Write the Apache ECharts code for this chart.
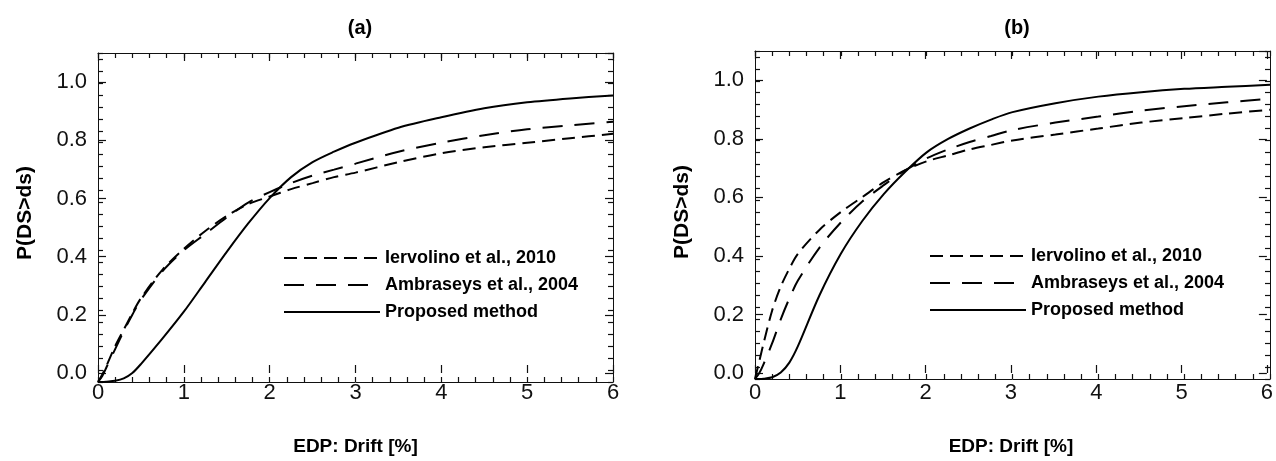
<!DOCTYPE html>
<html><head><meta charset="utf-8">
<script src="https://cdn.jsdelivr.net/npm/echarts@6/dist/echarts.min.js"></script>
<style>html,body{margin:0;padding:0;background:#fff}#c{width:1276px;height:461px}</style>
</head><body><div id="c"></div>
<script>
// ---- data ----
const drift = [0, 0.05, 0.1, 0.2, 0.3, 0.4, 0.5, 0.75, 1, 1.25, 1.5, 1.75, 2, 2.25, 2.5, 2.75, 3, 3.5, 4, 4.5, 5, 5.5, 6];
// panel (a)
const iervA = [0, 0.025, 0.055, 0.12, 0.175, 0.23, 0.28, 0.375, 0.445, 0.505, 0.555, 0.595, 0.62, 0.645, 0.665, 0.685, 0.70, 0.735, 0.765, 0.785, 0.80, 0.815, 0.83];
const ambrA = [0, 0.02, 0.05, 0.11, 0.17, 0.225, 0.275, 0.37, 0.44, 0.495, 0.55, 0.60, 0.635, 0.665, 0.69, 0.71, 0.73, 0.77, 0.80, 0.825, 0.845, 0.858, 0.87];
const propA = [0, 0, 0.001, 0.004, 0.012, 0.03, 0.06, 0.145, 0.235, 0.335, 0.435, 0.53, 0.615, 0.685, 0.735, 0.77, 0.80, 0.85, 0.885, 0.915, 0.935, 0.948, 0.958];
// panel (b)
const iervB = [0, 0.06, 0.12, 0.23, 0.31, 0.37, 0.42, 0.50, 0.56, 0.61, 0.66, 0.70, 0.73, 0.75, 0.77, 0.785, 0.80, 0.82, 0.84, 0.86, 0.875, 0.89, 0.903];
const ambrB = [0, 0.02, 0.05, 0.12, 0.20, 0.27, 0.33, 0.44, 0.525, 0.595, 0.65, 0.70, 0.74, 0.77, 0.795, 0.815, 0.835, 0.86, 0.88, 0.90, 0.915, 0.928, 0.94];
const propB = [0, 0, 0.001, 0.006, 0.022, 0.055, 0.11, 0.28, 0.42, 0.53, 0.62, 0.695, 0.76, 0.805, 0.84, 0.87, 0.895, 0.925, 0.947, 0.962, 0.973, 0.98, 0.987];

const seriesNames = ['Iervolino et al., 2010', 'Ambraseys et al., 2004', 'Proposed method'];
const panelTitles = ['(a)', '(b)'];
const xAxisName = 'EDP: Drift [%]';
const yAxisName = 'P(DS>ds)';

// ---- layout ----
const FONT = 'Arial, "Liberation Sans", sans-serif';
const grids = [
  {left: 98, top: 53, width: 515, height: 329},
  {left: 755, top: 51, width: 515, height: 328}
];
const AX = '#111';

// main axes (carry the data): box lines + minor ticks, no labels
function xAxesFor(g) {
  const common = () => ({type: 'value', gridIndex: g, min: 0, max: 6, interval: 0.2,
    axisLine: {show: true, onZero: false, lineStyle: {color: AX, width: 1}},
    axisTick: {show: true, inside: true, length: 5, lineStyle: {color: AX, width: 1.2}},
    axisLabel: {show: false}, splitLine: {show: false}});
  return [Object.assign(common(), {position: 'bottom'}), Object.assign(common(), {position: 'top'})];
}
function yAxesFor(g) {
  const common = () => ({type: 'value', gridIndex: g, min: 0, max: 1.1, interval: 0.04,
    axisLine: {show: true, onZero: false, lineStyle: {color: AX, width: 1}},
    axisTick: {show: true, inside: true, length: 5, lineStyle: {color: AX, width: 1.2}},
    axisLabel: {show: false}, splitLine: {show: false}});
  return [Object.assign(common(), {position: 'left'}), Object.assign(common(), {position: 'right'})];
}
// overlay axes: major ticks, tick labels and axis names
function majorXAxesFor(g) {
  const common = () => ({type: 'value', gridIndex: g, min: 0, max: 6, interval: 1,
    axisLine: {show: false, onZero: false},
    axisTick: {show: true, inside: true, length: 8, lineStyle: {color: AX, width: 1.2}},
    splitLine: {show: false}});
  return [
    Object.assign(common(), {position: 'bottom',
      axisLabel: {show: true, color: '#111', fontSize: 22, fontFamily: FONT, margin: 9},
      name: xAxisName, nameLocation: 'middle', nameGap: 64,
      nameTextStyle: {fontSize: 19, fontWeight: 'bold', color: '#000', fontFamily: FONT}}),
    Object.assign(common(), {position: 'top', axisLabel: {show: false}})
  ];
}
function majorYAxesFor(g) {
  const common = () => ({type: 'value', gridIndex: g, min: 0, max: 1.1, interval: 0.2,
    axisLine: {show: false, onZero: false},
    axisTick: {show: true, inside: true, length: 8, lineStyle: {color: AX, width: 1.2}},
    splitLine: {show: false}});
  return [
    Object.assign(common(), {position: 'left',
      axisLabel: {show: true, showMaxLabel: false, color: '#111', fontSize: 22, fontFamily: FONT, margin: 11,
        formatter: v => v > 1.05 ? '' : v.toFixed(1)},
      name: yAxisName, nameLocation: 'middle', nameGap: 62, nameRotate: 90,
      nameTextStyle: {fontSize: 21, fontWeight: 'bold', color: '#000', fontFamily: FONT}}),
    Object.assign(common(), {position: 'right', axisLabel: {show: false}})
  ];
}

const gridList = [Object.assign({}, grids[0]), Object.assign({}, grids[1]),
                  Object.assign({}, grids[0]), Object.assign({}, grids[1])];
const xAxes = [...xAxesFor(0), ...xAxesFor(1), ...majorXAxesFor(2), ...majorXAxesFor(3)];
const yAxes = [...yAxesFor(0), ...yAxesFor(1), ...majorYAxesFor(2), ...majorYAxesFor(3)];

const styles = [
  {type: [13, 7], width: 2},
  {type: [20, 12], width: 2},
  {type: 'solid', width: 2}
];
const panels = [[iervA, ambrA, propA], [iervB, ambrB, propB]];
const series = [];
panels.forEach((arrs, p) => {
  arrs.forEach((arr, k) => {
    series.push({
      type: 'line', name: seriesNames[k],
      xAxisIndex: p * 2, yAxisIndex: p * 2,
      data: drift.map((x, i) => [x, arr[i]]),
      smooth: 0.3, showSymbol: false, symbol: 'none',
      lineStyle: {color: '#000', width: styles[k].width, type: styles[k].type},
      itemStyle: {color: '#000'}, silent: true, animation: false
    });
  });
});

const legendCommon = {orient: 'vertical', data: seriesNames, itemWidth: 96, itemHeight: 14,
  itemGap: 9, padding: 0, itemStyle: {opacity: 0, borderWidth: 0},
  textStyle: {fontSize: 18, fontWeight: 'bold', color: '#000', fontFamily: FONT}};

const chart = echarts.init(document.getElementById('c'), null, {renderer: 'canvas'});
chart.setOption({
  animation: false,
  backgroundColor: '#fff',
  title: [
    {text: panelTitles[0], left: 355, top: 13, textAlign: 'center',
     textStyle: {fontSize: 20, fontWeight: 'bold', color: '#000', fontFamily: FONT}},
    {text: panelTitles[1], left: 1012, top: 13, textAlign: 'center',
     textStyle: {fontSize: 20, fontWeight: 'bold', color: '#000', fontFamily: FONT}}
  ],
  legend: [
    Object.assign({}, legendCommon, {left: 283, top: 249}),
    Object.assign({}, legendCommon, {left: 929, top: 247})
  ],
  grid: gridList,
  xAxis: xAxes,
  yAxis: yAxes,
  series: series
});
</script>
</body></html>
